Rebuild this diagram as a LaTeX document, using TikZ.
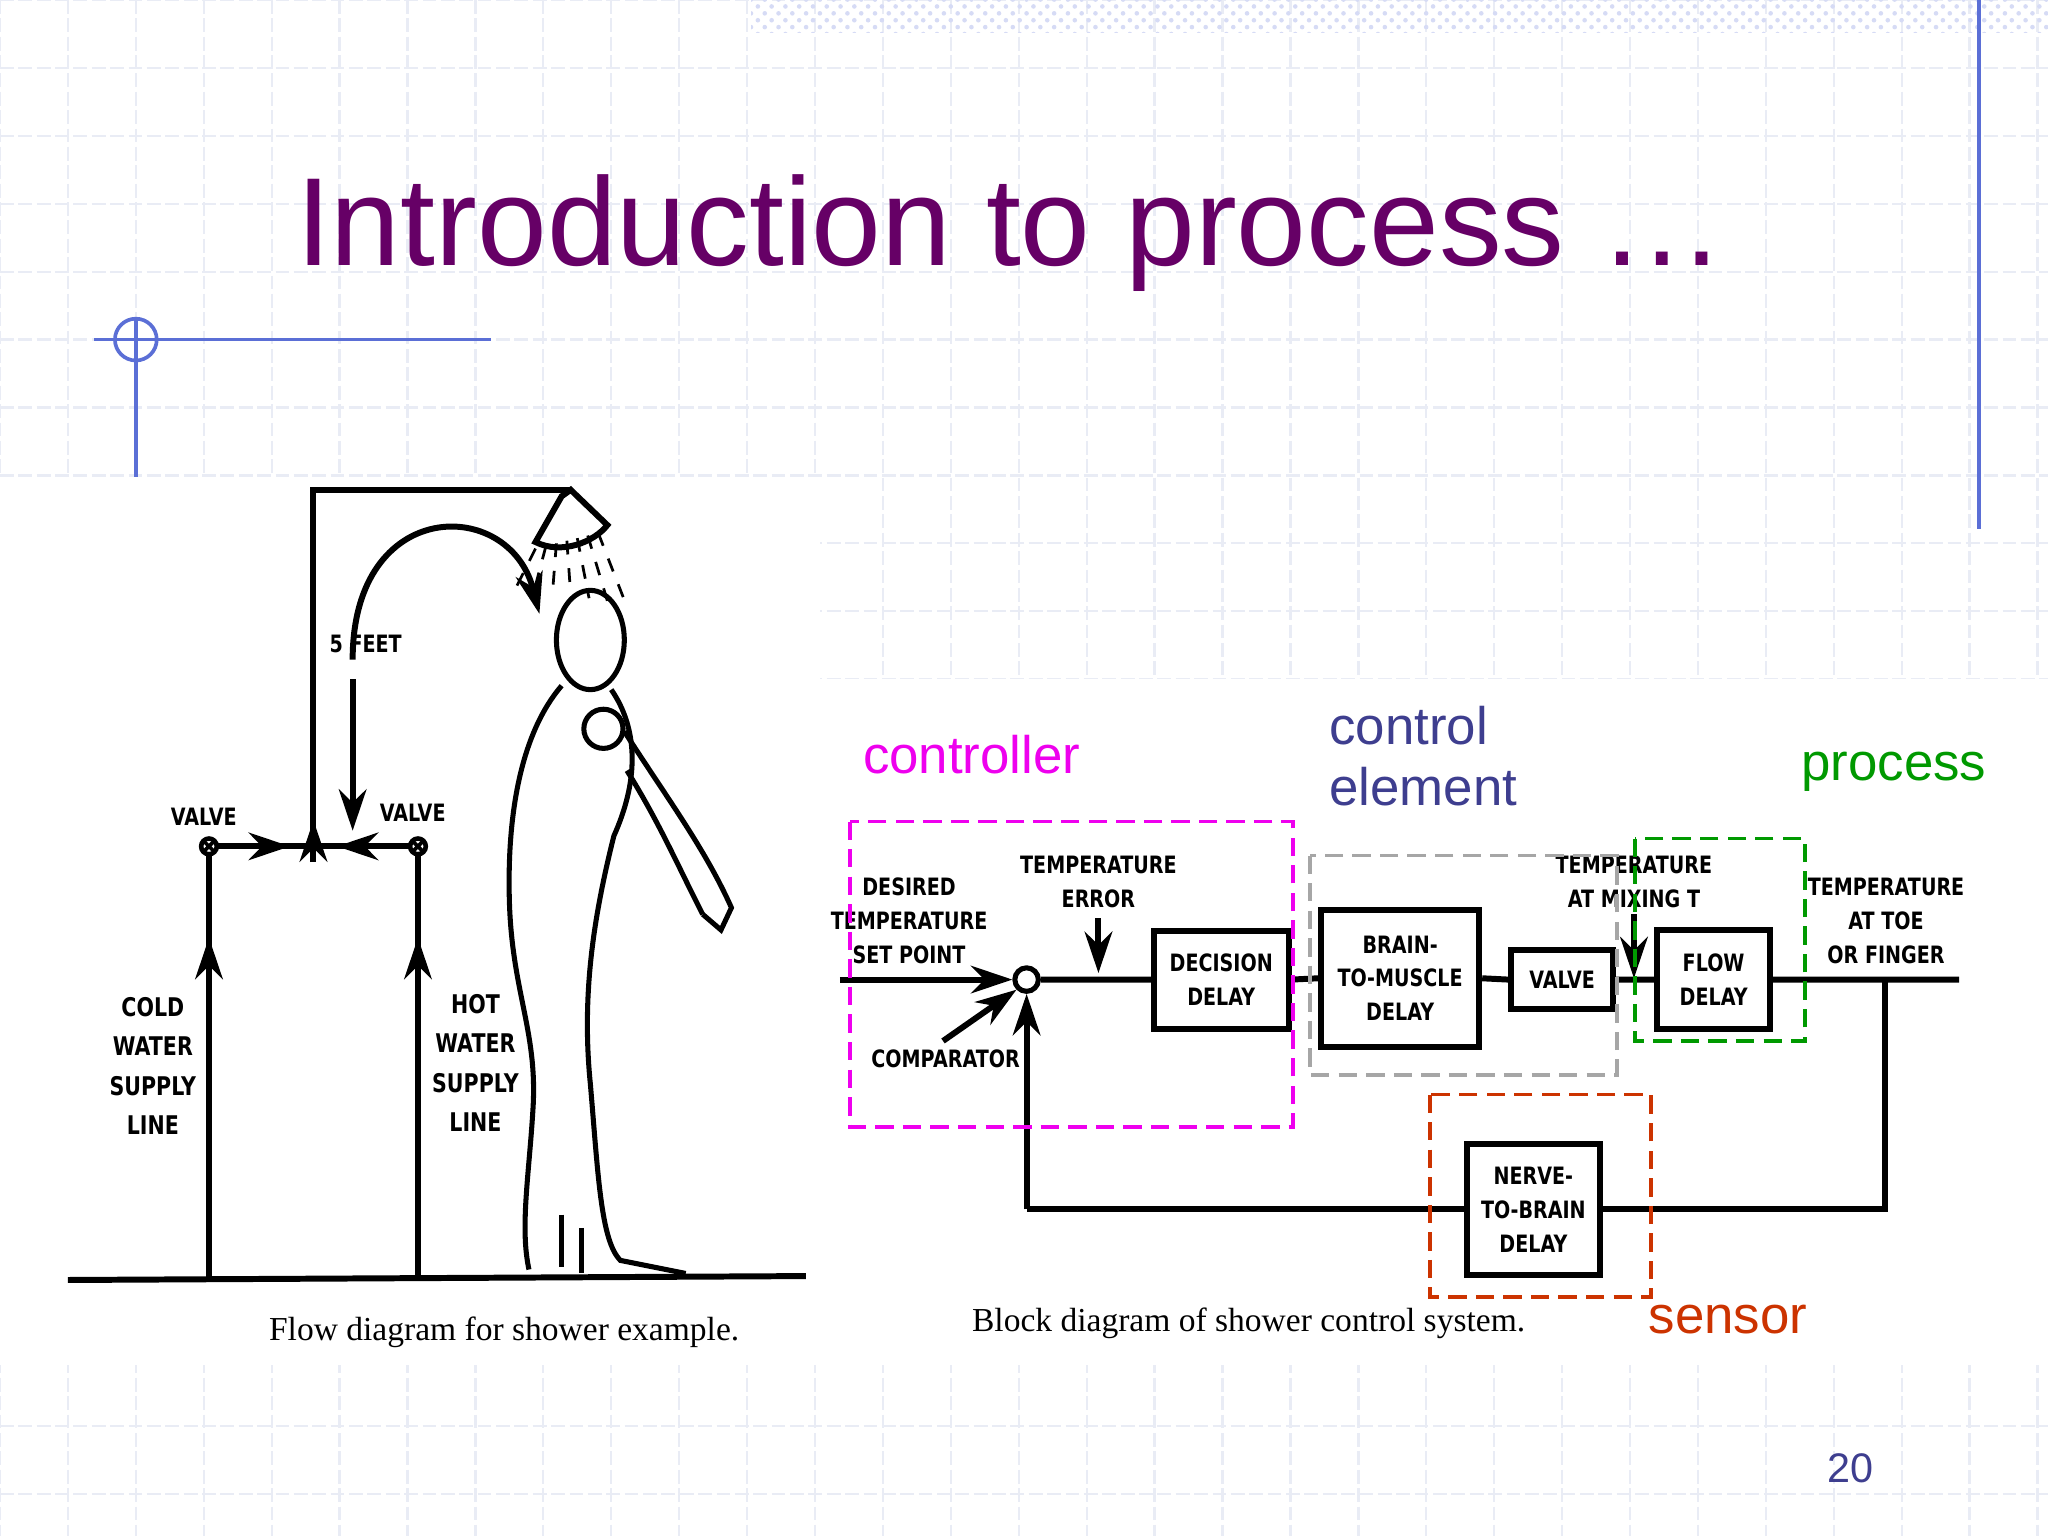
\documentclass[tikz,border=0pt]{standalone}
\usepackage{fontspec}
\setmainfont{Liberation Sans}
\newfontfamily\serifx{Liberation Serif}
\newfontfamily\cond{DejaVu Sans}[FakeStretch=0.8]
\usetikzlibrary{arrows.meta,patterns}
\definecolor{ttl}{HTML}{660066}
\definecolor{navy}{HTML}{3E3E8F}
\definecolor{grid}{HTML}{E9ECF5}
\definecolor{deco}{HTML}{5B6FD6}
\definecolor{sens}{HTML}{CC3300}
\definecolor{mag}{HTML}{EE00EE}
\tikzset{
 lbl/.style={font=\cond\bfseries\fontsize{5.2}{7.4}\selectfont,align=center,inner sep=0pt},
 blk/.style={draw,line width=1.3pt,minimum width=#1,inner sep=0pt,font=\cond\bfseries\fontsize{5.2}{7.4}\selectfont,align=center},
 ln/.style={line width=1.3pt},
 ar/.style={line width=1.3pt,-{Stealth[length=9pt,width=6pt]}},
 dbox/.style={dashed,line width=0.8pt,dash pattern=on 4pt off 2pt},
 captxt/.style={font=\serifx\fontsize{7.3}{9}\selectfont,inner sep=0pt},
 big/.style={font=\fontsize{11.5}{13.5}\selectfont,inner sep=0pt,align=left},
}
\begin{document}
\begin{tikzpicture}[x=0.01cm,y=-0.01cm]
\useasboundingbox (0,0) rectangle (1568,1176);
\fill[white] (0,0) rectangle (1568,1176);
\foreach \g in {0,52,...,1568}{\draw[grid,line width=0.5pt,dash pattern=on 3pt off 1pt] (\g,0) -- (\g,1176);}
\foreach \g in {0,52,...,1176}{\draw[grid,line width=0.5pt,dash pattern=on 3pt off 1pt] (0,\g) -- (1568,\g);}
\fill[pattern=crosshatch dots,pattern color=deco!25] (575,0) rectangle (1568,25);
\draw[deco,line width=0.8pt] (1515,0) -- (1515,405);
\draw[deco,line width=0.8pt] (72,260) -- (376,260) (104,243) -- (104,365);
\draw[deco,line width=0.8pt] (104,260) circle (16);
\node[ttl,font=\fontsize{27.3}{30}\selectfont,anchor=base west,inner sep=0pt] (title) at (226,203) {Introduction to process …};
% left panel
\fill[white] (0,365) rectangle (628,1045);
\fill[white] (628,520) rectangle (1568,1045);
\draw[ln] (52,980) -- (617,977);
\draw[ln] (160,978) -- (160,652);
\draw[ln] (320,978) -- (320,652);
\draw[ar] (160,760) -- (160,718);
\draw[ar] (320,760) -- (320,718);
\draw[ln] (166,648) -- (314,648);
\draw[ar] (180,648) -- (222,648);
\draw[ar] (300,648) -- (258,648);
\foreach \x in {160,320}{\draw[line width=1pt] (\x,648) circle (6); \draw[line width=0.8pt] (\x-4,644)--(\x+4,652) (\x-4,652)--(\x+4,644);}
\draw[ln] (240,648) -- (240,375) -- (437,375);
\draw[ar] (240,660) -- (240,628);
\draw[ar] (270,520) -- (270,636);
\draw[ln,-{Stealth[length=9pt,width=6pt]}] (270,505) .. controls (270,380) and (390,380) .. (413,470);
\draw[ln] (437,375) -- (430,380) -- (410,415) .. controls (430,425) and (455,415) .. (465,402) -- (440,378) -- cycle;
\foreach \a in {0,...,6}{\draw[line width=0.6pt,dashed] (410+8*\a,420-2*\a) -- (395+14*\a,450+2*\a);}
% person
\draw[line width=1.1pt] (452,490) ellipse (26 and 38);
\draw[line width=1.1pt] (430,525) .. controls (400,560) and (388,620) .. (390,690) .. controls (392,760) and (412,790) .. (408,850) .. controls (405,900) and (398,940) .. (405,972);
\draw[line width=1.1pt] (468,528) .. controls (490,560) and (488,600) .. (470,640) .. controls (455,700) and (445,760) .. (452,830) .. controls (458,900) and (460,950) .. (475,965) -- (525,975);
\draw[line width=1.1pt] (478,560) .. controls (510,610) and (540,650) .. (560,695) -- (552,712) -- (538,700);
\draw[line width=1.1pt] (480,590) .. controls (505,630) and (520,665) .. (538,700);
\draw[line width=1.1pt] (462,558) circle (15);
\draw[line width=1pt] (430,930) -- (430,970) (445,940)--(445,975);
\node[lbl] (f5) at (280,493) {5 FEET};
\node[lbl] (v1) at (156,625) {VALVE};
\node[lbl] (v2) at (316,622) {VALVE};
\node[lbl,font=\cond\bfseries\fontsize{5.6}{8.6}\selectfont] (cw) at (117,816) {COLD\\WATER\\SUPPLY\\LINE};
\node[lbl,font=\cond\bfseries\fontsize{5.6}{8.6}\selectfont] (hw) at (364,814) {HOT\\WATER\\SUPPLY\\LINE};
\node[captxt] (c1) at (386,1020) {Flow diagram for shower example.};
% block diagram
\node[draw,circle,line width=1.1pt,minimum size=0.18cm,inner sep=0pt] (cmp) at (786,750) {};
\node[blk=1.03cm,minimum height=0.75cm] (dd) at (935,750) {DECISION\\DELAY};
\node[blk=1.21cm,minimum height=1.05cm] (bm) at (1072,749) {BRAIN-\\TO-MUSCLE\\DELAY};
\node[blk=0.78cm,minimum height=0.45cm] (va) at (1196,750) {VALVE};
\node[blk=0.86cm,minimum height=0.76cm] (fd) at (1312,750) {FLOW\\DELAY};
\node[blk=1.02cm,minimum height=1.0cm] (nb) at (1174,926) {NERVE-\\TO-BRAIN\\DELAY};
\coordinate (in) at (643,750);
\coordinate (out) at (1500,750);
\coordinate (tap) at (1443,750);
\coordinate (fbR) at (1443,926);
\coordinate (fbL) at (786,926);
\draw[ar] (in) -- (cmp.west);
\draw[ln] (cmp.east) -- (dd.west) (dd.east) -- (bm.west) (bm.east) -- (va.west) (va.east) -- (fd.west) (fd.east) -- (out);
\draw[ln] (tap) -- (fbR) -- (nb.east) (nb.west) -- (fbL);
\draw[ar] (fbL) -- (cmp.south);
\coordinate (te) at (841,703); \coordinate (te2) at (841,745);
\draw[ar] (te) -- (te2);
\coordinate (tm) at (1251,700); \coordinate (tm2) at (1251,749);
\draw[ar] (tm) -- (tm2);
\coordinate (ca) at (722,797);
\draw[ar] (ca) -- (cmp.south west);
\node[lbl] (dt) at (696,705) {DESIRED\\TEMPERATURE\\SET POINT};
\node[lbl] (ter) at (841,675) {TEMPERATURE\\ERROR};
\node[lbl] (cl) at (724,811) {COMPARATOR};
\node[lbl] (tmx) at (1251,675) {TEMPERATURE\\AT MIXING T};
\node[lbl] (tt) at (1444,705) {TEMPERATURE\\AT TOE\\OR FINGER};
\draw[dbox,mag] (651,629) rectangle (990,863);
\draw[dbox,gray!70] (1003,655) rectangle (1238,823);
\draw[dbox,green!60!black] (1252,642) rectangle (1382,797);
\draw[dbox,sens] (1095,838) rectangle (1264,993);
\node[big,mag] (lc) at (744,578) {controller};
\node[big,navy,anchor=north west,font=\fontsize{11.5}{13.3}\selectfont] (le) at (1017,540) {control\\element};
\node[big,green!60!black] (lp) at (1450,591) {process};
\node[big,sens] (ls) at (1323,1010) {sensor};
\node[captxt] (c2) at (956,1013) {Block diagram of shower control system.};
\node[navy,font=\fontsize{9}{10}\selectfont] (pg) at (1417,1124) {20};
\end{tikzpicture}
\end{document}
